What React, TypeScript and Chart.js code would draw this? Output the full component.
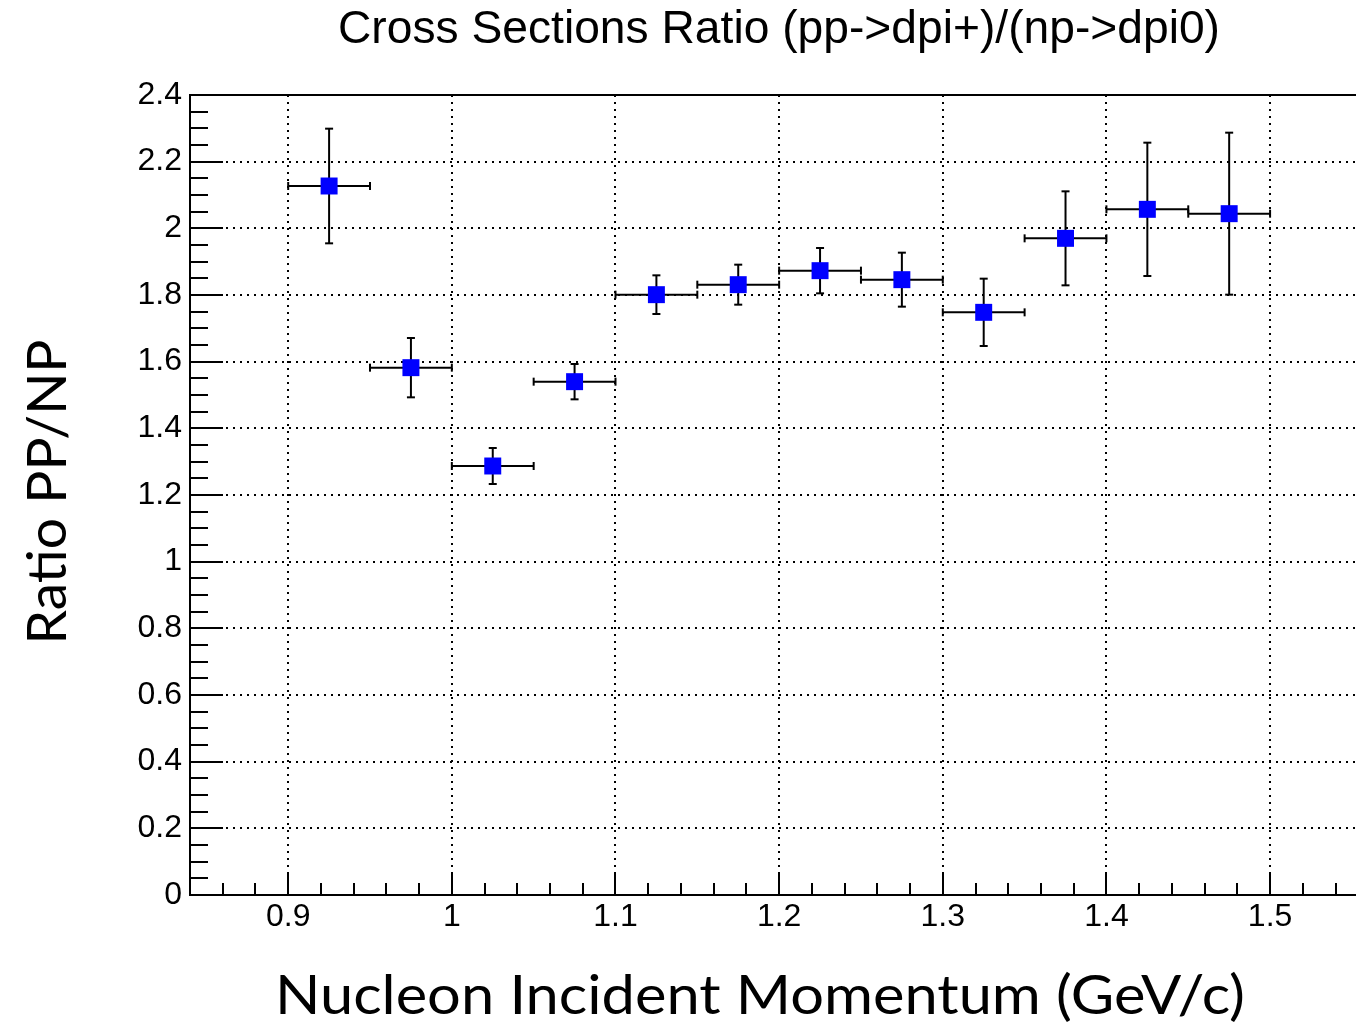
import { useEffect, useRef } from 'react';
import { Chart, registerables } from 'chart.js';

Chart.register(...registerables);

// ---- data ----
const MOMENTUM = [0.925, 0.975, 1.025, 1.075, 1.125, 1.175, 1.225, 1.275, 1.325, 1.375, 1.425, 1.475];
const MOMENTUM_ERR = [0.025, 0.025, 0.025, 0.025, 0.025, 0.025, 0.025, 0.025, 0.025, 0.025, 0.025, 0.025];
const RATIO = [2.127, 1.582, 1.287, 1.540, 1.801, 1.831, 1.873, 1.846, 1.748, 1.970, 2.057, 2.044];
const RATIO_ERR = [0.172, 0.089, 0.054, 0.053, 0.058, 0.060, 0.068, 0.081, 0.101, 0.141, 0.200, 0.243];

const X_TICKS = [0.9, 1.0, 1.1, 1.2, 1.3, 1.4, 1.5];
const Y_TICKS = [0, 0.2, 0.4, 0.6, 0.8, 1.0, 1.2, 1.4, 1.6, 1.8, 2.0, 2.2, 2.4];
const X_MIN = 0.84;
const X_MAX = 1.5525;
const Y_MIN = 0;
const Y_MAX = 2.4;
const X_MINOR_STEP = 0.02;
const Y_MINOR_STEP = 0.05;

const TITLE = 'Cross Sections Ratio (pp->dpi+)/(np->dpi0)';
const X_TITLE = 'Nucleon Incident Momentum (GeV/c)';
const Y_TITLE = 'Ratio PP/NP';

const W = 1356;
const H = 1027;

const fmt = (v: number) => String(Math.round(v * 10) / 10);

function drawFitted(
  ctx: CanvasRenderingContext2D,
  text: string,
  font: string,
  cx: number,
  cy: number,
  targetWidth: number,
  rotate: boolean
) {
  ctx.save();
  ctx.translate(cx, cy);
  if (rotate) ctx.rotate(-Math.PI / 2);
  ctx.font = font;
  const w = ctx.measureText(text).width;
  ctx.scale(targetWidth / w, 1);
  ctx.fillStyle = '#000';
  ctx.textAlign = 'center';
  ctx.textBaseline = 'alphabetic';
  ctx.fillText(text, 0, 0);
  ctx.restore();
}

const decorations = {
  id: 'rootDecorations',
  beforeDatasetsDraw(chart: any) {
    const { ctx, chartArea: a, scales } = chart;
    const xs = scales.x;
    const ys = scales.y;
    ctx.save();
    ctx.strokeStyle = '#000';
    ctx.lineWidth = 2;
    ctx.setLineDash([]);
    const line = (x1: number, y1: number, x2: number, y2: number) => {
      ctx.beginPath();
      ctx.moveTo(x1, y1);
      ctx.lineTo(x2, y2);
      ctx.stroke();
    };
    // top frame
    line(a.left, Math.round(a.top), a.right, Math.round(a.top));

    // y axis tick marks (inside)
    const yk0 = Math.ceil(Y_MIN / Y_MINOR_STEP - 1e-6);
    const yk1 = Math.floor(Y_MAX / Y_MINOR_STEP + 1e-6);
    for (let k = yk0; k <= yk1; k++) {
      const v = k * Y_MINOR_STEP;
      const major = k % 4 === 0;
      const py = Math.round(ys.getPixelForValue(v));
      line(a.left, py, a.left + (major ? 33 : 18), py);
    }
    // x axis tick marks (inside)
    const xk0 = Math.ceil(X_MIN / X_MINOR_STEP - 1e-6);
    const xk1 = Math.floor(X_MAX / X_MINOR_STEP + 1e-6);
    for (let k = xk0; k <= xk1; k++) {
      const v = k * X_MINOR_STEP;
      const major = k % 5 === 0;
      const px = Math.round(xs.getPixelForValue(v));
      line(px, a.bottom, px, a.bottom - (major ? 22 : 12));
    }

    // error bars
    const cap = 4;
    for (let i = 0; i < MOMENTUM.length; i++) {
      const px = xs.getPixelForValue(MOMENTUM[i]);
      const py = ys.getPixelForValue(RATIO[i]);
      const xl = xs.getPixelForValue(MOMENTUM[i] - MOMENTUM_ERR[i]);
      const xr = xs.getPixelForValue(MOMENTUM[i] + MOMENTUM_ERR[i]);
      const yt = ys.getPixelForValue(RATIO[i] + RATIO_ERR[i]);
      const yb = ys.getPixelForValue(RATIO[i] - RATIO_ERR[i]);
      line(xl, py, xr, py);
      line(xl, py - cap, xl, py + cap);
      line(xr, py - cap, xr, py + cap);
      line(px, yt, px, yb);
      line(px - cap, yt, px + cap, yt);
      line(px - cap, yb, px + cap, yb);
    }
    ctx.restore();
  },
  afterDraw(chart: any) {
    const { ctx } = chart;
    drawFitted(ctx, TITLE, '46px "Liberation Sans", Arial, sans-serif', 779, 43, 882, false);
    drawFitted(ctx, X_TITLE, '54px Lato, "Open Sans", sans-serif', 760, 1014, 970, false);
    drawFitted(ctx, Y_TITLE, '54px Lato, "Open Sans", sans-serif', 66, 492, 305, true);
  },
};

export default function App() {
  const ref = useRef<HTMLCanvasElement | null>(null);

  useEffect(() => {
    if (!ref.current) return;
    const tickFont = { family: '"Liberation Sans", Arial, sans-serif', size: 32 };
    const chart = new Chart(ref.current, {
      type: 'scatter',
      data: {
        datasets: [
          {
            label: 'Ratio PP/NP',
            data: MOMENTUM.map((x, i) => ({ x, y: RATIO[i] })),
            pointStyle: 'rect',
            pointRadius: 12,
            pointHoverRadius: 12,
            pointBackgroundColor: '#0000ff',
            pointBorderWidth: 0,
            pointBorderColor: '#0000ff',
            showLine: false,
          },
        ],
      },
      options: {
        responsive: false,
        animation: false,
        devicePixelRatio: 1,
        events: [],
        layout: { autoPadding: false, padding: { top: 95, right: 0, left: 0, bottom: 0 } },
        plugins: {
          legend: { display: false },
          tooltip: { enabled: false },
          title: { display: false },
        },
        scales: {
          x: {
            type: 'linear',
            min: X_MIN,
            max: X_MAX,
            afterFit: (s: any) => {
              s.height = H - 895;
              s.paddingLeft = 0;
              s.paddingRight = 0;
            },
            afterBuildTicks: (s: any) => {
              s.ticks = X_TICKS.map((v) => ({ value: v }));
            },
            ticks: {
              color: '#000',
              font: tickFont,
              padding: 3,
              maxRotation: 0,
              autoSkip: false,
              callback: (v: any) => fmt(Number(v)),
            },
            grid: { color: '#000', lineWidth: 2, drawTicks: false },
            border: { display: true, color: '#000', width: 2, dash: [2, 5] },
          },
          y: {
            type: 'linear',
            min: Y_MIN,
            max: Y_MAX,
            afterFit: (s: any) => {
              s.width = 190;
              s.paddingTop = 0;
              s.paddingBottom = 0;
            },
            afterBuildTicks: (s: any) => {
              s.ticks = Y_TICKS.map((v) => ({ value: v }));
            },
            ticks: {
              color: '#000',
              font: tickFont,
              padding: 8,
              autoSkip: false,
              callback: (v: any) => fmt(Number(v)),
            },
            grid: { color: '#000', lineWidth: 2, drawTicks: false },
            border: { display: true, color: '#000', width: 2, dash: [2, 5] },
          },
        },
      },
      plugins: [decorations],
    } as any);
    return () => chart.destroy();
  }, []);

  return (
    <div style={{ position: 'fixed', left: 0, top: 0, width: W, height: H, background: '#fff', overflow: 'hidden' }}>
      <canvas ref={ref} width={W} height={H} style={{ display: 'block', width: W, height: H }} />
    </div>
  );
}
